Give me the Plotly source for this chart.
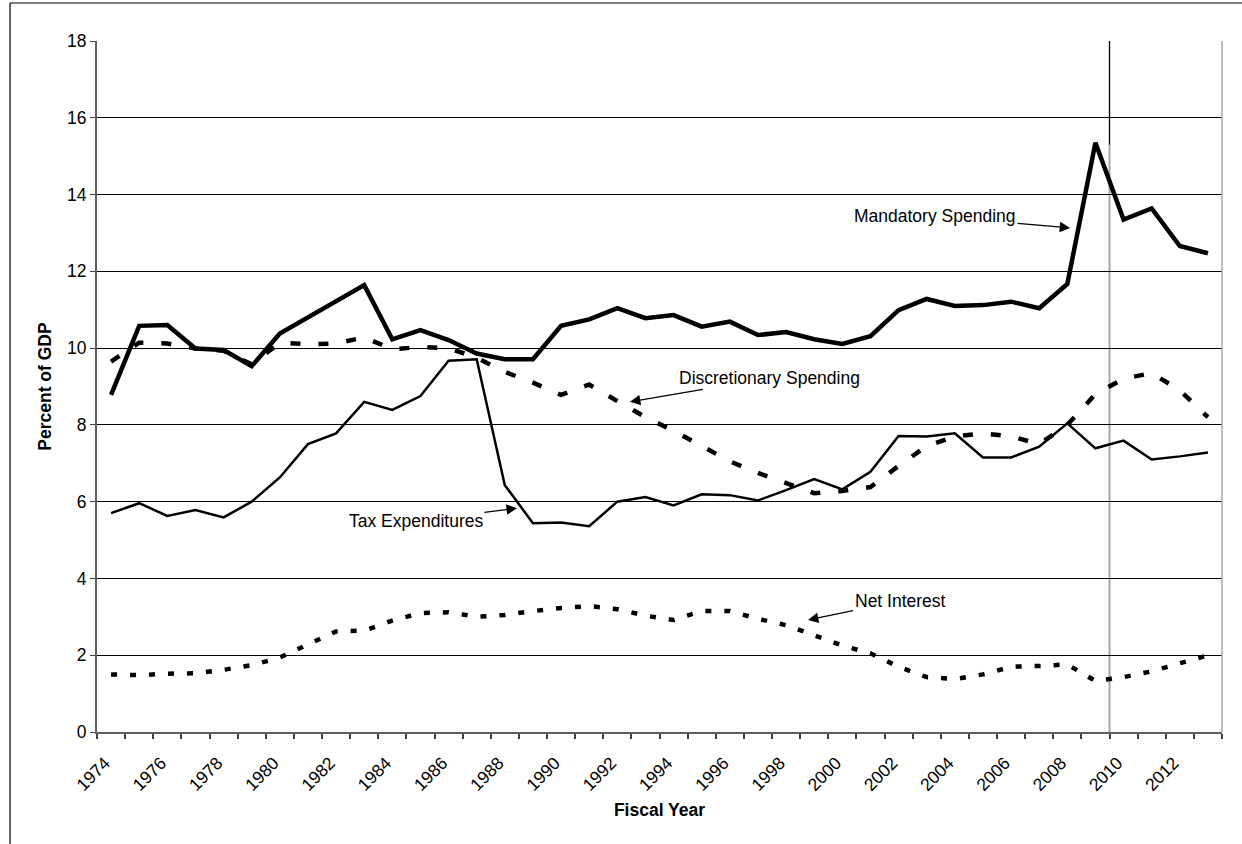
import plotly.graph_objects as go

years = list(range(1974, 2014))

mandatory = [8.78, 10.58, 10.60, 9.99, 9.95, 9.53, 10.38, 10.80, 11.21, 11.64,
             10.23, 10.47, 10.21, 9.86, 9.71, 9.71, 10.58, 10.75, 11.04, 10.78,
             10.86, 10.56, 10.69, 10.34, 10.42, 10.23, 10.11, 10.31, 10.99, 11.28,
             11.10, 11.12, 11.21, 11.04, 11.67, 15.35, 13.35, 13.64, 12.66, 12.47]

discretionary = [9.65, 10.14, 10.12, 9.99, 9.93, 9.58, 10.14, 10.10, 10.12, 10.28,
                 9.97, 10.03, 10.00, 9.75, 9.38, 9.10, 8.78, 9.05, 8.62, 8.20,
                 7.85, 7.45, 7.05, 6.75, 6.50, 6.22, 6.28, 6.38, 6.93, 7.45,
                 7.70, 7.78, 7.70, 7.50, 8.00, 8.80, 9.20, 9.35, 8.90, 8.20]

tax_expenditures = [5.70, 5.96, 5.63, 5.78, 5.59, 6.00, 6.63, 7.50, 7.78, 8.60,
                    8.39, 8.75, 9.67, 9.71, 6.43, 5.44, 5.46, 5.36, 6.00, 6.12,
                    5.90, 6.19, 6.17, 6.03, 6.30, 6.59, 6.32, 6.78, 7.71, 7.70,
                    7.78, 7.15, 7.15, 7.43, 8.04, 7.39, 7.59, 7.10, 7.18, 7.28]

net_interest = [1.50, 1.48, 1.52, 1.53, 1.62, 1.74, 1.94, 2.28, 2.62, 2.64,
                2.90, 3.10, 3.12, 3.00, 3.05, 3.15, 3.23, 3.28, 3.20, 3.03,
                2.92, 3.15, 3.15, 2.95, 2.78, 2.52, 2.25, 2.05, 1.70, 1.43,
                1.38, 1.50, 1.70, 1.72, 1.76, 1.33, 1.43, 1.58, 1.78, 2.00]

tick_years = list(range(1974, 2013, 2))
boundaries = [y - 0.5 for y in range(1974, 2015)]

# (label, tip x, tip y, text offset x, text offset y)
labels = [
    ("Mandatory Spending", 2008.1, 13.13, -135, -12),
    ("Discretionary Spending", 1992.45, 8.6, 140, -24),
    ("Tax Expenditures", 1988.43, 5.83, -101, 13),
    ("Net Interest", 1998.78, 2.92, 92, -19),
]

FONT = "Liberation Sans, Arial, sans-serif"

fig = go.Figure()

fig.add_trace(go.Scatter(x=years, y=tax_expenditures, mode="lines",
                         line=dict(color="black", width=2.5)))
fig.add_trace(go.Scatter(x=years, y=net_interest, mode="lines",
                         line=dict(color="black", width=4.5, dash="6px,13px")))
fig.add_trace(go.Scatter(x=years, y=discretionary, mode="lines",
                         line=dict(color="black", width=4.5, dash="10px,18px")))
fig.add_trace(go.Scatter(x=years, y=mandatory, mode="lines",
                         line=dict(color="black", width=4.5)))

# divider between actual and projected years
fig.add_shape(type="line", x0=2009.5, x1=2009.5, y0=0, y1=18,
              line=dict(color="#a8a8a8", width=2), layer="below")
fig.add_shape(type="line", x0=2009.5, x1=2009.5, y0=15.3, y1=18,
              line=dict(color="black", width=1))

# outer chart frame (partly cropped)
fig.add_shape(type="line", xref="paper", yref="paper",
              x0=-0.0773, x1=1.02, y0=1.055, y1=1.055,
              line=dict(color="black", width=1.2))
fig.add_shape(type="line", xref="paper", yref="paper",
              x0=-0.0773, x1=-0.0773, y0=1.055, y1=-0.17,
              line=dict(color="black", width=1.2))

for text, tx, ty, ax, ay in labels:
    fig.add_annotation(x=tx, y=ty, text=text, ax=ax, ay=ay,
                       showarrow=True, arrowhead=2, arrowsize=1.6,
                       arrowwidth=1.3, arrowcolor="black",
                       font=dict(family=FONT, size=17.5, color="black"))

fig.update_layout(
    width=1242,
    height=844,
    margin=dict(l=97, r=20, t=41, b=112),
    paper_bgcolor="white",
    plot_bgcolor="white",
    showlegend=False,
    font=dict(family=FONT, size=17, color="black"),
)

fig.update_xaxes(
    range=[1973.5, 2013.5],
    tickmode="array",
    tickvals=tick_years,
    ticktext=[str(y) for y in tick_years],
    tickangle=-45,
    ticks="",
    ticklabelstandoff=12,
    ticklabelshift=-6,
    showgrid=False,
    zeroline=False,
    showline=True,
    linecolor="#606060",
    linewidth=2,
    mirror=False,
    tickfont=dict(size=17.5),
    minor=dict(tickmode="array", tickvals=boundaries, ticks="outside",
               ticklen=5, tickcolor="#404040", tickwidth=1.5, showgrid=False),
    title=dict(text="Fiscal Year", standoff=10,
               font=dict(size=17.5, weight="bold")),
)

fig.update_yaxes(
    range=[0, 18],
    dtick=2,
    ticks="outside",
    ticklen=5,
    tickcolor="#404040",
    showgrid=True,
    gridcolor="black",
    gridwidth=1,
    zeroline=False,
    showline=True,
    linecolor="#606060",
    linewidth=2,
    tickfont=dict(size=17.5),
    title=dict(text="Percent of GDP", standoff=11,
               font=dict(size=17.5, weight="bold")),
)

# right border of the plot area
fig.add_shape(type="line", xref="paper", yref="paper", x0=1, x1=1, y0=0, y1=1,
              line=dict(color="#a8a8a8", width=1.5))

fig.write_html("out.html", config={"displayModeBar": False},
               post_script="document.body.style.margin='0';")
